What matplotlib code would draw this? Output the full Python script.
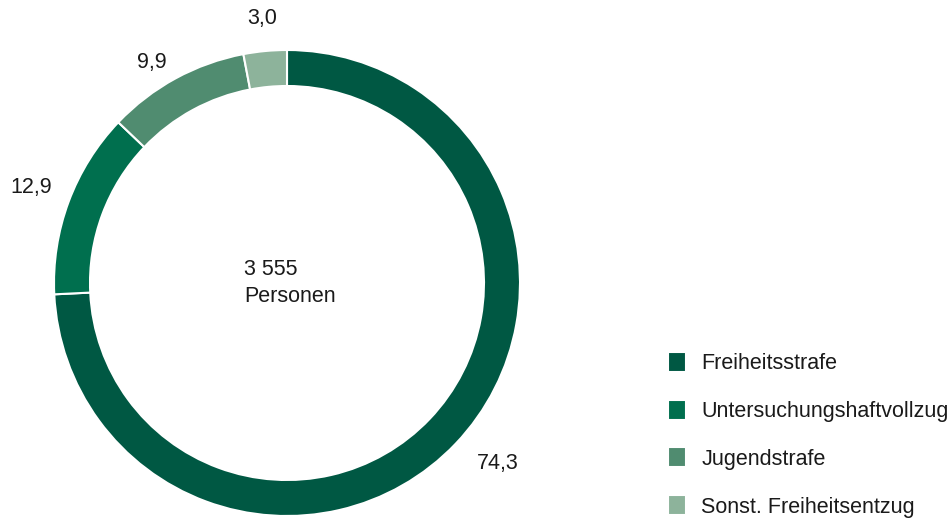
import numpy as np
import matplotlib
matplotlib.use("Agg")
from matplotlib import pyplot as plt

plt.rcParams['font.family'] = ['Liberation Sans', 'DejaVu Sans']

categories = ["Freiheitsstrafe", "Untersuchungshaftvollzug", "Jugendstrafe", "Sonst. Freiheitsentzug"]
values = [74.3, 12.9, 9.9, 3.0]
value_labels = ["74,3", "12,9", "9,9", "3,0"]
colors = ["#005843", "#006f4e", "#508c70", "#8db39b"]
center_text = "3 555\nPersonen"

W, H = 952, 518
fig = plt.figure(figsize=(W / 100, H / 100), dpi=100)
ax = fig.add_axes([0, 0, 1, 1])
ax.set_aspect('equal')
ax.axis('off')

cx, cy, R = 287, H - 283, 233
wedges, _ = ax.pie(values, colors=colors, startangle=90, counterclock=False,
                   center=(cx, cy), radius=R, normalize=True,
                   wedgeprops=dict(width=36, edgecolor='white', linewidth=1.5))
ax.set_xlim(0, W)
ax.set_ylim(0, H)

# label distance per wedge (outside the ring)
label_r = [1.19, 1.17, 1.11, 1.14]
label_da = [3, 0, 3, 0]
for w, lab, f, da in zip(wedges, value_labels, label_r, label_da):
    ang = np.deg2rad((w.theta1 + w.theta2) / 2 + da)
    r = R * f
    ax.text(cx + r * np.cos(ang), cy + r * np.sin(ang), lab,
            ha='center', va='center', fontsize=15.5, color='#1a1a1a')

ax.text(244, cy, center_text, ha='left', va='center', fontsize=15.5,
        color='#1a1a1a', linespacing=1.35)

leg = ax.legend(wedges, categories, loc='upper left',
                bbox_to_anchor=(668 / W, 1 - 352 / H), frameon=False,
                fontsize=15.5, handlelength=0.85, handleheight=1.05,
                handletextpad=0.7, labelspacing=1.18, borderpad=0,
                borderaxespad=0)
for t in leg.get_texts():
    t.set_color('#1a1a1a')

fig.savefig("out.png", dpi=100)
